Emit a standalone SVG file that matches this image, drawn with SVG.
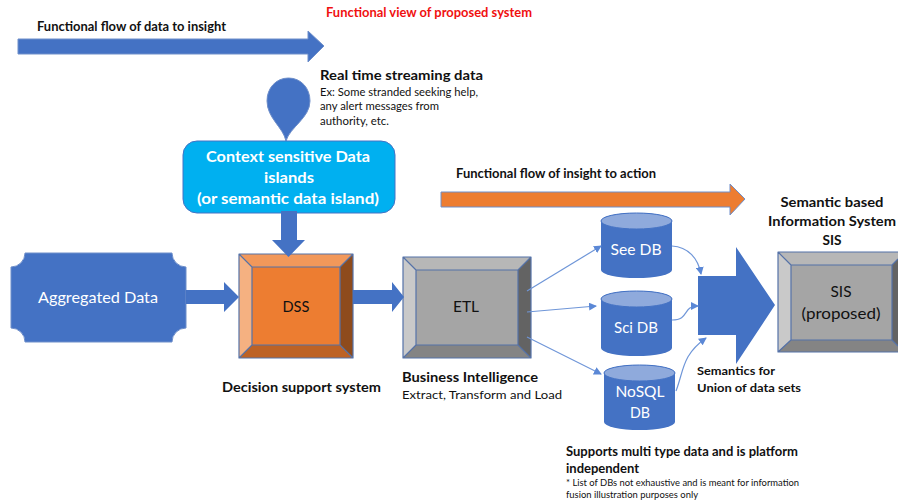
<svg xmlns="http://www.w3.org/2000/svg" width="898" height="502" viewBox="0 0 898 502">
<style>
text{font-family:Lato,"Open Sans","Liberation Sans",sans-serif;fill:#111}
.b{font-weight:700}
.s{fill:#4472c4;stroke:#6f8fca;stroke-width:1}
.w{fill:#fff}
.e{stroke:#5572a8;stroke-width:1.2;stroke-linejoin:round}
.c{fill:none;stroke:#6f96d8;stroke-width:1.2}
.top{fill:#8faadc;stroke:#4472c4}
</style>
<defs>
<marker id="a" markerWidth="8" markerHeight="8" refX="7" refY="4" orient="auto" markerUnits="userSpaceOnUse"><path d="M0 0L8 4L0 8Z" fill="#5b88d6"/></marker>
<g id="cyl"><path class="s" style="stroke:none" d="M0 8A35.500 8 0 0 1 71 8V57A35.500 8 0 0 1 0 57Z"/><ellipse class="top" cx="35.500" cy="8" rx="35.500" ry="8"/></g>
</defs>
<rect width="898" height="502" fill="#fff"/>
<g id="title"><text x="326" y="17" font-size="12.500" class="b" style="fill:#f01010" textLength="206" lengthAdjust="spacingAndGlyphs">Functional view of proposed system</text></g>
<g id="flow-data"><path class="s" d="M18 39H308V31L324 46L308 62V54H18Z"/><text x="37" y="31" font-size="13" class="b" textLength="189" lengthAdjust="spacingAndGlyphs">Functional flow of data to insight</text></g>
<g id="flow-insight"><path d="M441 192H730V184L745 199L730 215V207H441Z" fill="#ed7d31" stroke="#6f8fca"/><text x="456" y="178" font-size="13" class="b" textLength="200" lengthAdjust="spacingAndGlyphs">Functional flow of insight to action</text></g>
<g id="stream"><path class="s" d="M286 141C283 127 267 118 267 101C267 88 276 78 288.500 78C301 78 310 88 310 101C310 118 290 127 286 141Z"/>
<text x="320" y="80" font-size="14" class="b" textLength="163" lengthAdjust="spacingAndGlyphs">Real time streaming data</text>
<text x="320" y="96" font-size="11" textLength="158" lengthAdjust="spacingAndGlyphs">Ex: Some stranded seeking help,</text>
<text x="320" y="110" font-size="11" textLength="119" lengthAdjust="spacingAndGlyphs">any alert messages from</text>
<text x="320" y="125" font-size="11" textLength="69" lengthAdjust="spacingAndGlyphs">authority, etc.</text></g>
<g id="islands"><rect x="183" y="141" width="212" height="72" rx="14" fill="#00b0f0" stroke="#4472c4"/>
<g class="b" font-size="16" text-anchor="middle"><text class="w" x="288" y="162" textLength="164" lengthAdjust="spacingAndGlyphs">Context sensitive Data</text><text class="w" x="289" y="183" textLength="50" lengthAdjust="spacingAndGlyphs">islands</text><text class="w" x="288" y="204" textLength="182" lengthAdjust="spacingAndGlyphs">(or semantic data island)</text></g></g>
<g id="aggregated"><path class="s" d="M25 253H172A14 14 0 0 0 186 267V328A14 14 0 0 0 172 342H25A14 14 0 0 0 11 328V267A14 14 0 0 0 25 253Z"/><text class="w" x="98" y="303" font-size="16" text-anchor="middle" textLength="120" lengthAdjust="spacingAndGlyphs">Aggregated Data</text></g>
<g id="dss"><rect x="239" y="254" width="114" height="104" fill="#ed7d31"/>
<path d="M239 254H353L340 267H252Z" fill="#f2985a"/><path d="M239 254L252 267V345L239 358Z" fill="#f5b181"/><path d="M353 254V358L340 345V267Z" fill="#8e4b1c"/><path d="M239 358L252 345H340L353 358Z" fill="#bd6225"/>
<path class="e" fill="none" d="M239 254H353V358H239ZM252 267H340V345H252ZM239 254L252 267M353 254L340 267M239 358L252 345M353 358L340 345"/>
<text x="296" y="312" font-size="16" text-anchor="middle" textLength="27" lengthAdjust="spacingAndGlyphs">DSS</text>
<text x="222" y="392" font-size="14" class="b" textLength="159" lengthAdjust="spacingAndGlyphs">Decision support system</text></g>
<g id="etl"><rect x="403" y="257" width="128" height="101" fill="#a5a5a5"/>
<path d="M403 257H531L518 270H416Z" fill="#b7b7b7"/><path d="M403 257L416 270V345L403 358Z" fill="#c9c9c9"/><path d="M531 257V358L518 345V270Z" fill="#636363"/><path d="M403 358L416 345H518L531 358Z" fill="#848484"/>
<path class="e" fill="none" d="M403 257H531V358H403ZM416 270H518V345H416ZM403 257L416 270M531 257L518 270M403 358L416 345M531 358L518 345"/>
<text x="466" y="312" font-size="16" text-anchor="middle" textLength="26" lengthAdjust="spacingAndGlyphs">ETL</text>
<text x="402" y="382" font-size="14" class="b" textLength="136" lengthAdjust="spacingAndGlyphs">Business Intelligence</text>
<text x="402" y="399" font-size="12" textLength="160" lengthAdjust="spacingAndGlyphs">Extract, Transform and Load</text></g>
<g id="see-db"><use href="#cyl" x="601" y="213"/><text class="w" x="636" y="255" font-size="16" text-anchor="middle" textLength="51" lengthAdjust="spacingAndGlyphs">See DB</text></g>
<g id="sci-db"><use href="#cyl" x="601" y="291"/><text class="w" x="636" y="333" font-size="16" text-anchor="middle" textLength="44" lengthAdjust="spacingAndGlyphs">Sci DB</text></g>
<g id="nosql-db"><use href="#cyl" x="604" y="365"/><text class="w" x="640" y="397" font-size="16" text-anchor="middle" textLength="49" lengthAdjust="spacingAndGlyphs">NoSQL</text><text class="w" x="640" y="418" font-size="16" text-anchor="middle" textLength="20" lengthAdjust="spacingAndGlyphs">DB</text></g>
<g id="union"><path class="s" style="stroke:none" d="M698 276H736V247L775 305L736 364V335H698Z"/>
<text x="697" y="375" font-size="12" class="b" textLength="78" lengthAdjust="spacingAndGlyphs">Semantics for</text><text x="697" y="392" font-size="12" class="b" textLength="104" lengthAdjust="spacingAndGlyphs">Union of data sets</text></g>
<g id="sis"><rect x="778" y="252" width="130" height="100" fill="#a5a5a5"/>
<path d="M778 252H905L892 265H791Z" fill="#b7b7b7"/><path d="M778 252L791 265V340L778 352Z" fill="#c9c9c9"/><path d="M905 252V352L892 340V265Z" fill="#636363"/><path d="M778 352L791 340H892L905 352Z" fill="#848484"/>
<path class="e" fill="none" d="M778 252H905V352H778ZM791 265H892V340H791ZM778 252L791 265M778 352L791 340M892 265L898 259M892 340L898 346"/>
<text x="841" y="297" font-size="16" text-anchor="middle" textLength="21" lengthAdjust="spacingAndGlyphs">SIS</text><text x="841" y="319" font-size="16" text-anchor="middle" textLength="79" lengthAdjust="spacingAndGlyphs">(proposed)</text>
<g font-size="14" class="b" text-anchor="middle"><text x="832" y="207" textLength="103" lengthAdjust="spacingAndGlyphs">Semantic based</text><text x="832" y="226" textLength="128" lengthAdjust="spacingAndGlyphs">Information System</text><text x="832" y="245" textLength="19" lengthAdjust="spacingAndGlyphs">SIS</text></g></g>
<g id="support-note"><text x="566" y="456" font-size="13" class="b" textLength="232" lengthAdjust="spacingAndGlyphs">Supports multi type data and is platform</text><text x="566" y="473" font-size="13" class="b" textLength="73" lengthAdjust="spacingAndGlyphs">independent</text>
<text x="566" y="486" font-size="9.500" textLength="233" lengthAdjust="spacingAndGlyphs">* List of DBs not exhaustive and is meant for information</text><text x="566" y="498" font-size="9.500" textLength="132" lengthAdjust="spacingAndGlyphs">fusion illustration purposes only</text></g>
<g id="connectors">
<path class="s" style="stroke:none" d="M281 211H297V240H305L288.500 257L272 240H281Z"/>
<path class="s" style="stroke:none" d="M186 290H224V282L239 297L224 312V304H186Z"/>
<path class="s" style="stroke:none" d="M353 290H392V282L404 297L392 312V304H353Z"/>
<path class="c" marker-end="url(#a)" d="M527 291L601 246"/>
<path class="c" marker-end="url(#a)" d="M527 312L596 306"/>
<path class="c" marker-end="url(#a)" d="M527 337L601 374"/>
<path class="c" marker-end="url(#a)" d="M672 246C688 247 698 258 701 274"/>
<path class="c" marker-end="url(#a)" d="M672 320C690 320 682 306 698 306"/>
<path class="c" marker-end="url(#a)" d="M676 391C684 370 682 355 706 338"/>
</g>
</svg>
